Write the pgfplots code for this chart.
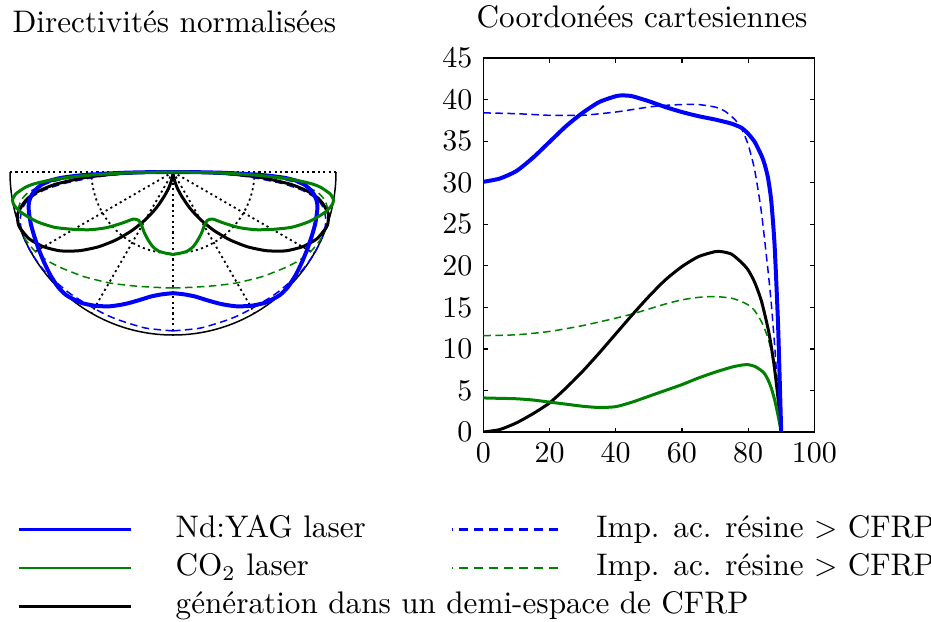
\documentclass[border=0pt]{standalone}
\usepackage{pgfplots}
\usepackage{pgfplotstable}
\pgfplotsset{compat=1.18}

\definecolor{mblue}{rgb}{0,0,1}
\definecolor{mgreen}{rgb}{0,0.5,0}

% angle (deg) / amplitude
\pgfplotstableread{
t v
0 30.1
5 30.5
10 31.4
15 33.0
20 34.9
25 36.8
30 38.4
35 39.7
40 40.4
42 40.5
45 40.4
50 39.8
55 39.1
60 38.5
65 38.0
70 37.6
75 37.1
78 36.6
80 35.9
82 34.9
84 33.3
85 32.2
86 30.6
87 27.8
88 22.5
89 13.5
89.5 7.0
90 0
}\yagsolid

\pgfplotstableread{
t v
0 38.4
10 38.3
20 38.1
25 38.1
30 38.1
40 38.5
50 39.1
55 39.3
60 39.4
65 39.4
70 39.1
73 38.6
76 37.6
78 36.5
80 34.6
82 31.5
84 26.5
86 19.5
87 15.5
88 10.5
89 5.0
90 0
}\yagdash

\pgfplotstableread{
t v
0 4.1
5 4.05
10 4.0
15 3.85
20 3.6
25 3.35
30 3.1
35 2.95
40 3.05
45 3.6
50 4.3
55 5.0
60 5.7
65 6.5
70 7.2
75 7.8
78 8.05
80 8.1
82 7.9
84 7.4
85 7.0
86 6.3
87 5.3
88 3.9
89 2.1
90 0
}\cosolid

\pgfplotstableread{
t v
0 11.6
10 11.7
20 12.1
30 12.8
40 13.7
45 14.2
50 14.8
55 15.4
60 15.9
65 16.2
70 16.3
75 16.1
78 15.7
80 15.3
82 14.6
84 13.3
85 12.4
86 11.3
87 9.8
88 7.8
89 4.5
90 0
}\codash

\pgfplotstableread{
t v
0 0
5 0.3
10 1.1
15 2.2
20 3.5
25 5.3
30 7.3
35 9.5
40 11.8
45 14.1
50 16.3
55 18.3
60 19.9
65 21.1
70 21.7
72 21.7
75 21.4
78 20.4
80 19.5
82 18.0
84 15.8
86 12.5
87 10.3
88 7.6
89 4.2
90 0
}\halfspace

\tikzset{
  gridl/.style={black, line width=0.6pt, dash pattern=on 0.7pt off 1.1pt},
  thinDash/.style={line width=0.5pt, dash pattern=on 2.5pt off 1.5pt},
}

% polar panel: mirrored, each curve normalised by its max
\newcommand{\polarpair}[3]{%
  \addplot[#3] table[x expr={\thisrow{v}/#2*sin(\thisrow{t})}, y expr={-\thisrow{v}/#2*cos(\thisrow{t})}] {#1};
  \addplot[#3] table[x expr={-\thisrow{v}/#2*sin(\thisrow{t})}, y expr={-\thisrow{v}/#2*cos(\thisrow{t})}] {#1};
}

\begin{document}
\fontsize{10.4pt}{12.5pt}\selectfont
\begin{tikzpicture}
\useasboundingbox (0,0) rectangle (310.333pt,207pt);

\node[anchor=base west, inner sep=0pt] at (4pt,196.33pt) {Directivités normalisées};
\node[anchor=base, inner sep=0pt] at (214pt,198pt) {Coordonées cartesiennes};

\begin{axis}[
  at={(3.333pt,95.333pt)}, anchor=south west,
  scale only axis, width=108.667pt, height=54.333pt,
  xmin=-1, xmax=1, ymin=-1, ymax=0,
  hide axis, clip=false,
  every axis plot/.append style={smooth, tension=0.4},
]
\draw[gridl] (axis cs:-1,0) -- (axis cs:1,0);
\draw[gridl] (axis cs:0,0) -- (axis cs:0,-1);
\draw[gridl] (axis cs:0,0) -- (axis cs:0.5,-0.866);
\draw[gridl] (axis cs:0,0) -- (axis cs:-0.5,-0.866);
\draw[gridl] (axis cs:0,0) -- (axis cs:0.866,-0.5);
\draw[gridl] (axis cs:0,0) -- (axis cs:-0.866,-0.5);
\draw[gridl] (axis cs:-0.5,0) arc[start angle=180, end angle=360, radius=27.167pt];
\draw[black, line width=0.5pt] (axis cs:-1,0) arc[start angle=180, end angle=360, radius=54.333pt];

\polarpair{\yagdash}{39.4}{mblue, thinDash}
\polarpair{\codash}{16.3}{mgreen, thinDash}
\polarpair{\halfspace}{21.7}{black, line width=1pt}
\polarpair{\yagsolid}{40.5}{mblue, line width=1.33pt}
\polarpair{\cosolid}{8.1}{mgreen, line width=1pt}
\end{axis}

\begin{axis}[
  at={(161.1pt,63pt)}, anchor=south west,
  scale only axis, width=110.33pt, height=124.67pt,
  xmin=0, xmax=100, ymin=0, ymax=45,
  xtick={0,20,...,100}, ytick={0,5,...,45},
  tick align=inside, major tick length=1.5pt,
  axis line style={line width=0.4pt},
  tick style={black, line width=0.4pt},
  every axis plot/.append style={smooth, tension=0.4},
  legend columns=2, legend cell align=left,
  legend image code/.code={\draw[#1] (0pt,0pt) -- (37.33pt,0pt);},
  legend style={draw=none, fill=none, inner sep=0pt, outer sep=0pt,
    at={(axis description cs:-1.4058,-0.2246)}, anchor=north west,
    nodes={inner sep=0pt, text height=7pt, text depth=2pt},
    row sep=3.83pt,
    /tikz/column 1/.style={column sep=14.33pt},
    /tikz/column 3/.style={column sep=10.4pt}},
]
\addlegendimage{mblue, line width=0.9pt, sharp plot}
\addlegendentry{\makebox[91.6pt][l]{Nd:YAG laser}}
\addlegendimage{mblue, line width=0.9pt, sharp plot, dash pattern=on 2.8pt off 2.2pt, dash phase=2.5pt}
\addlegendentry{Imp. ac. résine $>$ CFRP}
\addlegendimage{mgreen, line width=0.9pt, sharp plot}
\addlegendentry{\makebox[91.6pt][l]{CO$_2$ laser}}
\addlegendimage{mgreen, line width=0.9pt, sharp plot, dash pattern=on 2.8pt off 2.2pt, dash phase=2.5pt}
\addlegendentry{Imp. ac. résine $>$ CFRP}
\addlegendimage{black, line width=0.9pt, sharp plot}
\addlegendentry{\makebox[91.6pt][l]{génération dans un demi-espace de CFRP}}

\addplot[mblue, thinDash, forget plot] table[x=t, y=v] {\yagdash};
\addplot[mgreen, thinDash, forget plot] table[x=t, y=v] {\codash};
\addplot[black, line width=1pt, forget plot] table[x=t, y=v] {\halfspace};
\addplot[mgreen, line width=1pt, forget plot] table[x=t, y=v] {\cosolid};
\addplot[mblue, line width=1.33pt, forget plot] table[x=t, y=v] {\yagsolid};
\end{axis}
\end{tikzpicture}
\end{document}
